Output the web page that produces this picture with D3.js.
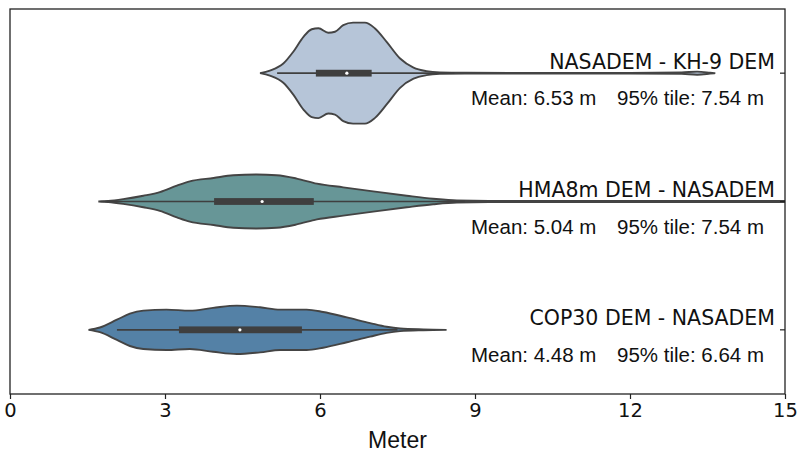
<!DOCTYPE html>
<html>
<head>
<meta charset="utf-8">
<script src="https://cdn.jsdelivr.net/npm/d3@7"></script>
<style>
  body { margin: 0; background: #fff; }
</style>
</head>
<body>
<div id="chart"></div>
<script>
// Data
const categories = ["NASADEM - KH-9 DEM", "HMA8m DEM - NASADEM", "COP30 DEM - NASADEM"];
const fillColors = ["#b6c5d8", "#679697", "#5481a6"];
const xTicks = [0, 3, 6, 9, 12, 15];

// violin outlines: [meter, relative density]
const kh9Density = [[4.84,0],[5.03,0.05],[5.29,0.19],[5.48,0.42],[5.68,0.72],[5.84,0.87],[5.97,0.89],[6.16,0.80],[6.29,0.82],[6.45,0.95],[6.64,1.0],[6.87,1.0],[7.06,0.89],[7.29,0.62],[7.55,0.29],[7.81,0.11],[8.06,0.04],[8.32,0.015],[8.8,0.008],[10,0.006],[12,0.006],[13.0,0.015],[13.3,0.03],[13.55,0.01],[13.65,0]];
const hma8Density = [[1.71,0],[1.9,0.01],[2.19,0.046],[2.58,0.114],[2.90,0.186],[3.23,0.314],[3.48,0.40],[3.94,0.466],[4.32,0.52],[4.77,0.534],[5.16,0.52],[5.55,0.454],[5.94,0.354],[6.45,0.28],[7.03,0.20],[7.68,0.114],[8.19,0.054],[8.65,0.02],[9.5,0.012],[11,0.01],[13,0.01],[15.5,0.01]];
const cop30Density = [[1.52,0],[1.74,0.046],[2.07,0.20],[2.32,0.32],[2.58,0.38],[3.03,0.40],[3.48,0.38],[3.93,0.434],[4.39,0.48],[4.84,0.446],[5.23,0.40],[5.74,0.40],[6.06,0.354],[6.52,0.246],[6.97,0.134],[7.29,0.06],[7.55,0.026],[8.0,0.008],[8.45,0]];
const densities = [kh9Density, hma8Density, cop30Density];

// inner box plot
const whiskerLow = [5.17, 1.75, 2.07];
const q1 = [5.92, 3.95, 3.27];
const medians = [6.52, 4.88, 4.45];
const q3 = [7.0, 5.88, 5.65];
const whiskerHigh = [8.6, 8.8, 7.5];

// annotations
const means = ["6.53", "5.04", "4.48"];
const p95 = ["7.54", "7.54", "6.64"];

// Set up dimensions
const W = 798, H = 454;
const margin = {top: 9, right: 13, bottom: 60, left: 10};
const width = W - margin.left - margin.right,
      height = H - margin.top - margin.bottom;

const svg = d3.select("#chart").append("svg")
    .attr("width", W)
    .attr("height", H)
    .append("g")
    .attr("transform", "translate(" + margin.left + "," + margin.top + ")");

svg.append("defs").append("clipPath")
    .attr("id", "plotclip")
    .append("rect")
    .attr("width", width)
    .attr("height", height);

// Scales
const x = d3.scaleLinear().domain([0, 15]).range([0, width]);
const y = d3.scaleBand().domain(categories).range([0, height]);
const w = d3.scaleLinear().domain([0, 1]).range([0, 50.5]);

const plot = svg.append("g").attr("clip-path", "url(#plotclip)");

categories.forEach(function(cat, i) {
    const cy = y(cat) + y.bandwidth() / 2;
    const area = d3.area()
        .x(d => x(d[0]))
        .y0(d => cy - w(d[1]))
        .y1(d => cy + w(d[1]))
        .curve(d3.curveMonotoneX);

    plot.append("path")
        .datum(densities[i])
        .attr("d", area)
        .attr("fill", fillColors[i])
        .attr("stroke", "#444")
        .attr("stroke-width", 1.9);

    // whiskers
    plot.append("line")
        .attr("x1", x(whiskerLow[i])).attr("x2", x(whiskerHigh[i]))
        .attr("y1", cy).attr("y2", cy)
        .attr("stroke", "#3f3f3f")
        .attr("stroke-width", 1.7);
    // box
    plot.append("rect")
        .attr("x", x(q1[i]))
        .attr("width", x(q3[i]) - x(q1[i]))
        .attr("y", cy - 3.4)
        .attr("height", 6.8)
        .attr("fill", "#3f3f3f");
    // median
    plot.append("circle")
        .attr("cx", x(medians[i]))
        .attr("cy", cy)
        .attr("r", 1.6)
        .attr("fill", "#fff");

    // labels
    svg.append("text")
        .attr("x", width - 10)
        .attr("y", cy - 4.5)
        .attr("text-anchor", "end")
        .style("font-family", "DejaVu Sans")
        .style("font-size", "20.5px")
        .attr("fill", "#111")
        .text(cat);
    svg.append("text")
        .attr("x", 461)
        .attr("y", cy + 32)
        .style("font-family", "Liberation Sans, Arial")
        .style("font-size", "20.5px")
        .attr("fill", "#111")
        .text("Mean: " + means[i] + " m");
    svg.append("text")
        .attr("x", 754)
        .attr("y", cy + 32)
        .attr("text-anchor", "end")
        .style("font-family", "Liberation Sans, Arial")
        .style("font-size", "20.5px")
        .attr("fill", "#111")
        .text("95% tile: " + p95[i] + " m");

    // small inward tick on the right spine
    svg.append("line")
        .attr("x1", width - 5).attr("x2", width)
        .attr("y1", cy).attr("y2", cy)
        .attr("stroke", "#222")
        .attr("stroke-width", 1.2);
});

// Frame
svg.append("rect")
    .attr("width", width)
    .attr("height", height)
    .attr("fill", "none")
    .attr("stroke", "#222")
    .attr("stroke-width", 1.3);

// x axis
const xAxis = svg.append("g")
    .attr("transform", "translate(0," + height + ")")
    .call(d3.axisBottom(x).tickValues(xTicks).tickSize(5).tickPadding(4));
xAxis.select(".domain").remove();
xAxis.selectAll(".tick line").attr("stroke", "#222").attr("stroke-width", 1.2);
xAxis.selectAll(".tick text")
    .style("font-family", "DejaVu Sans")
    .style("font-size", "19.5px")
    .attr("fill", "#111");

svg.append("text")
    .attr("x", width / 2)
    .attr("y", height + 54)
    .attr("text-anchor", "middle")
    .style("font-family", "Liberation Sans, Arial")
    .style("font-size", "23px")
    .attr("fill", "#111")
    .text("Meter");
</script>
</body>
</html>
